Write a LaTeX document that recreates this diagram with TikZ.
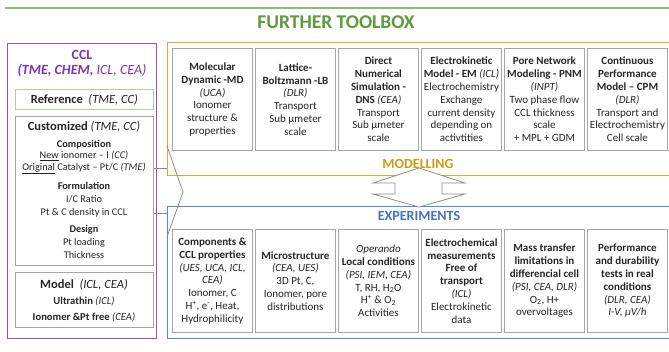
\documentclass[tikz,border=0pt]{standalone}
\usepackage{fontspec}
\setmainfont{Carlito}
\usetikzlibrary{calc}
\definecolor{tgreen}{HTML}{5E9B3C}
\definecolor{lgreen}{HTML}{8DBE6E}
\definecolor{pframe}{HTML}{8A55C8}
\definecolor{ptext}{HTML}{7A35B8}
\definecolor{gframe}{HTML}{DDAA33}
\definecolor{gtext}{HTML}{CC9C10}
\definecolor{bframe}{HTML}{5A86D8}
\definecolor{btext}{HTML}{4472C4}
\definecolor{boxgray}{HTML}{A6A6A6}
\definecolor{refgray}{HTML}{B5CBA8}
\definecolor{conngray}{HTML}{8C8C8C}
\definecolor{txt}{HTML}{262626}
\newcommand\boxfont{\fontsize{11}{12.8}\selectfont}
\newcommand\headfont{\fontsize{12.5}{14}\selectfont}
\newcommand\leftfont{\fontsize{10.3}{11.6}\selectfont}
\begin{document}
\begin{tikzpicture}[x=1pt,y=-1pt,
  mbox/.style={draw=boxgray, line width=0.9pt, fill=white, minimum width=80pt, minimum height=102pt, anchor=north west, align=center, inner sep=0pt, font=\boxfont, text=txt},
  ebox/.style={mbox, minimum height=103pt},
  lbox/.style={draw=boxgray, line width=0.9pt, anchor=north west, inner sep=0pt, minimum width=138pt},
  ltext/.style={align=center, font=\leftfont, text=txt, inner sep=0pt},
  conn/.style={draw=conngray, line width=0.8pt},
  frame/.style={line width=1.4pt, anchor=north west, inner sep=0pt, minimum width=513pt},
]
\clip (0,0) rectangle (669,351);
\fill[white] (0,0) rectangle (669,351);
% title
\coordinate (tl) at (5,8);
\coordinate (tr) at (669,8);
\draw[lgreen, line width=1.3pt] (tl) -- (tr);
\node[font=\fontsize{19.5}{22}\selectfont\bfseries, text=tgreen] (title) at (336,22) {FURTHER TOOLBOX};

% frames
\node[frame, draw=gframe, minimum height=133pt] (modframe) at (167,42) {};
\node[frame, draw=bframe, minimum height=132pt] (expframe) at (167,206) {};
\node[draw=pframe, line width=1.4pt, anchor=north west, inner sep=0pt, minimum width=149pt, minimum height=295pt] (cclframe) at (7,43) {};

% connectors
\coordinate (c1) at (153,168);
\coordinate (c2) at (153,213);
\draw[conn] (c1) -- (c1 -| modframe.west);
\draw[conn] (c1) -- (c2) -- (c2 -| expframe.west);
\coordinate (v1) at (167,146);
\coordinate (v2) at (183,192);
\coordinate (v3) at (167,237);
\draw[conn] (v1) -- (v2) -- (v3);

% double arrow
\coordinate (da) at (419,188);
\draw[conn, fill=white] (419,168) -- (465,183) -- (442,183) -- (442,194) -- (465,194) -- (419,207) -- (373,194) -- (395,194) -- (395,183) -- (373,183) -- cycle;

\node[font=\fontsize{14}{16}\selectfont\bfseries, text=gtext] (modlab) at (418,164) {MODELLING};
\node[font=\fontsize{14}{16}\selectfont\bfseries, text=btext] (explab) at (419,216) {EXPERIMENTS};

% left panel
\node[font=\fontsize{14}{16}\selectfont\bfseries, text=ptext] (ccl) at (82,55) {CCL};
\node[font=\fontsize{14}{16}\selectfont, text=ptext] (cclsub) at (82,70) {\textbf{\textit{(TME, CHEM,}} \textit{ICL, CEA)}};

\node[lbox, draw=refgray, minimum height=20pt, font=\headfont, text=txt] (ref) at (15,89) {\textbf{Reference}\ \ \textit{(TME, CC)}};
\node[lbox, minimum height=149pt] (cust) at (15,116) {};
\node[ltext, font=\headfont] (custh) at (84,127) {\textbf{Customized} \textit{(TME, CC)}};
\node[ltext] (comp) at (84,157) {\textbf{Composition}\\\underline{New} ionomer -- I \textit{(CC)}\\\underline{Original} Catalyst -- Pt/C \textit{(TME)}};
\node[ltext, font=\fontsize{10.3}{12.8}\selectfont] (form) at (84,200) {\textbf{Formulation}\\I/C Ratio\\Pt \& C density in CCL};
\node[ltext, font=\fontsize{10.3}{12.8}\selectfont] (design) at (84,242) {\textbf{Design}\\Pt loading\\Thickness};

\node[lbox, minimum height=55pt] (model) at (15,272) {};
\node[ltext, font=\headfont] (modelh) at (84,285) {\textbf{Model}\ \ \textit{(ICL, CEA)}};
\node[ltext, font=\fontsize{10.6}{12}\selectfont] (ultra) at (84,301) {\textbf{Ultrathin} \textit{(ICL)}};
\node[ltext, font=\fontsize{10.6}{12}\selectfont] (iono) at (84,317) {\textbf{Ionomer \&Pt free} \textit{(CEA)}};

% modelling boxes
\node[mbox] (m1) at (172,48) {\textbf{Molecular}\\\textbf{Dynamic -MD}\\\textit{(UCA)}\\Ionomer\\structure \&\\properties};
\node[mbox] (m2) at (255,48) {\textbf{Lattice-}\\\textbf{Boltzmann -LB}\\\textit{(DLR)}\\Transport\\Sub µmeter\\scale};
\node[mbox] (m3) at (338,48) {\textbf{Direct}\\\textbf{Numerical}\\\textbf{Simulation -}\\\textbf{DNS} \textit{(CEA)}\\Transport\\Sub µmeter\\scale};
\node[mbox] (m4) at (421,48) {\textbf{Electrokinetic}\\\textbf{Model - EM} \textit{(ICL)}\\Electrochemistry\\Exchange\\current density\\depending on\\activtities};
\node[mbox] (m5) at (504,48) {\textbf{Pore Network}\\\textbf{Modeling - PNM}\\\textit{(INPT)}\\Two phase flow\\CCL thickness\\scale\\+ MPL + GDM};
\node[mbox] (m6) at (587,48) {\textbf{Continuous}\\\textbf{Performance}\\\textbf{Model -- CPM}\\\textit{(DLR)}\\Transport and\\Electrochemistry\\Cell scale};

% experiment boxes
\node[ebox] (e1) at (172,229) {\textbf{Components \&}\\\textbf{CCL properties}\\\textit{(UES, UCA, ICL,}\\\textit{CEA)}\\Ionomer, C\\H\textsuperscript{+}, e\textsuperscript{-}, Heat,\\Hydrophilicity};
\node[ebox] (e2) at (255,229) {\textbf{Microstructure}\\\textit{(CEA, UES)}\\3D Pt, C,\\Ionomer, pore\\distributions};
\node[ebox] (e3) at (338,229) {\textit{Operando}\\\textbf{Local conditions}\\\textit{(PSI, IEM, CEA)}\\T, RH, H\textsubscript{2}O\\H\textsuperscript{+} \& O\textsubscript{2}\\Activities};
\node[ebox] (e4) at (421,229) {\textbf{Electrochemical}\\\textbf{measurements}\\\textbf{Free of}\\\textbf{transport}\\\textit{(ICL)}\\Electrokinetic\\data};
\node[ebox] (e5) at (504,229) {\textbf{Mass transfer}\\\textbf{limitations in}\\\textbf{differencial cell}\\\textit{(PSI, CEA, DLR)}\\O\textsubscript{2}, H+\\overvoltages};
\node[ebox] (e6) at (587,229) {\textbf{Performance}\\\textbf{and durability}\\\textbf{tests in real}\\\textbf{conditions}\\\textit{(DLR, CEA)}\\\textit{I-V, µV/h}};
\end{tikzpicture}
\end{document}
